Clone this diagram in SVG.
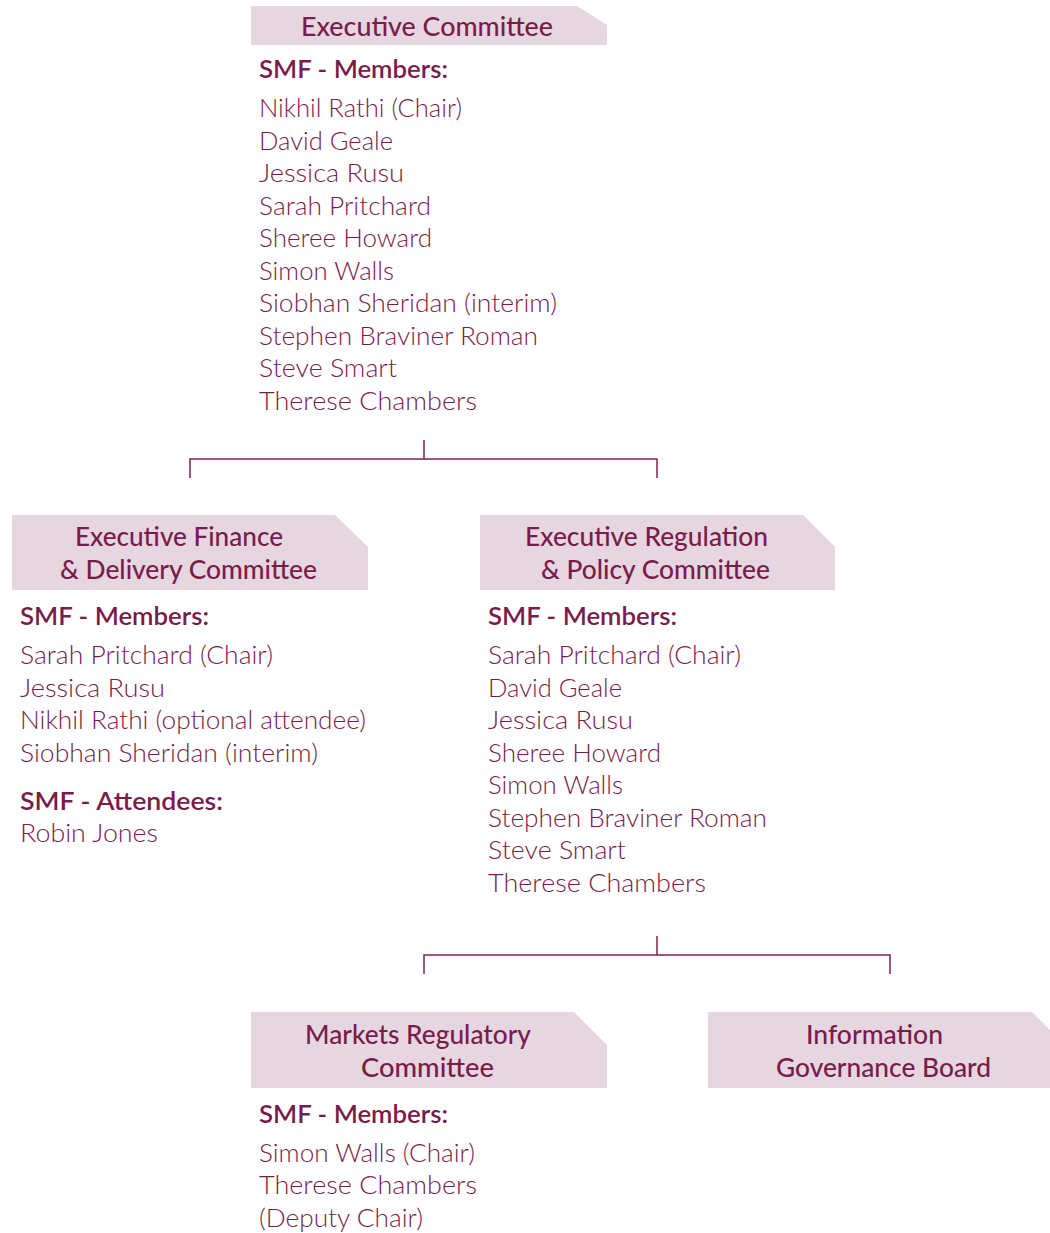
<svg xmlns="http://www.w3.org/2000/svg" width="1050" height="1233" viewBox="0 0 1050 1233">
<style>
.box{fill:#e6d6df}
text{lengthAdjust:spacingAndGlyphs}
.t{font-family:Lato,"Open Sans",sans-serif;font-size:26px;fill:#7a1c4b;font-weight:500}
.h{font-family:Lato,"Open Sans",sans-serif;font-size:25.8px;fill:#7a1c4b;font-weight:600}
.n{font-family:Lato,"Open Sans",sans-serif;font-size:26px;fill:#7a1c4b;font-weight:300}
.c{fill:none;stroke:#7b2352;stroke-width:1.5}
</style>
<rect width="1050" height="1233" fill="#fff"/>
<g id="connectors">
<path class="c" d="M424 440V459M190 478V459H657V478"/>
<path class="c" d="M657 936V955M424 974V955H890V974"/>
</g>
<g id="exec">
<path class="box" d="M251 6H577L607 25V45H251Z"/>
<text class="t" x="301" y="36" textLength="252" lengthAdjust="spacingAndGlyphs">Executive Committee</text>
<text class="h" x="259" y="78" textLength="189" lengthAdjust="spacingAndGlyphs">SMF - Members:</text>
<text class="n" x="259" y="117" textLength="203" lengthAdjust="spacingAndGlyphs">Nikhil Rathi (Chair)</text>
<text class="n" x="259" y="150" textLength="134" lengthAdjust="spacingAndGlyphs">David Geale</text>
<text class="n" x="259" y="182" textLength="145" lengthAdjust="spacingAndGlyphs">Jessica Rusu</text>
<text class="n" x="259" y="215" textLength="172" lengthAdjust="spacingAndGlyphs">Sarah Pritchard</text>
<text class="n" x="259" y="247" textLength="173" lengthAdjust="spacingAndGlyphs">Sheree Howard</text>
<text class="n" x="259" y="280" textLength="135" lengthAdjust="spacingAndGlyphs">Simon Walls</text>
<text class="n" x="259" y="312" textLength="298" lengthAdjust="spacingAndGlyphs">Siobhan Sheridan (interim)</text>
<text class="n" x="259" y="345" textLength="279" lengthAdjust="spacingAndGlyphs">Stephen Braviner Roman</text>
<text class="n" x="259" y="377" textLength="138" lengthAdjust="spacingAndGlyphs">Steve Smart</text>
<text class="n" x="259" y="410" textLength="218" lengthAdjust="spacingAndGlyphs">Therese Chambers</text>
</g>
<g id="finance">
<path class="box" d="M12 515H335L368 547V590H12Z"/>
<text class="t" x="75" y="546" textLength="208" lengthAdjust="spacingAndGlyphs">Executive Finance</text>
<text class="t" x="60" y="579" textLength="257" lengthAdjust="spacingAndGlyphs">&amp; Delivery Committee</text>
<text class="h" x="20" y="625" textLength="189" lengthAdjust="spacingAndGlyphs">SMF - Members:</text>
<text class="n" x="20" y="664" textLength="253" lengthAdjust="spacingAndGlyphs">Sarah Pritchard (Chair)</text>
<text class="n" x="20" y="697" textLength="145" lengthAdjust="spacingAndGlyphs">Jessica Rusu</text>
<text class="n" x="20" y="729" textLength="346" lengthAdjust="spacingAndGlyphs">Nikhil Rathi (optional attendee)</text>
<text class="n" x="20" y="762" textLength="298" lengthAdjust="spacingAndGlyphs">Siobhan Sheridan (interim)</text>
<text class="h" x="20" y="810" textLength="203" lengthAdjust="spacingAndGlyphs">SMF - Attendees:</text>
<text class="n" x="20" y="842" textLength="138" lengthAdjust="spacingAndGlyphs">Robin Jones</text>
</g>
<g id="regulation">
<path class="box" d="M480 515H803L835 547V590H480Z"/>
<text class="t" x="525" y="546" textLength="243" lengthAdjust="spacingAndGlyphs">Executive Regulation</text>
<text class="t" x="541" y="579" textLength="229" lengthAdjust="spacingAndGlyphs">&amp; Policy Committee</text>
<text class="h" x="488" y="625" textLength="189" lengthAdjust="spacingAndGlyphs">SMF - Members:</text>
<text class="n" x="488" y="664" textLength="253" lengthAdjust="spacingAndGlyphs">Sarah Pritchard (Chair)</text>
<text class="n" x="488" y="697" textLength="134" lengthAdjust="spacingAndGlyphs">David Geale</text>
<text class="n" x="488" y="729" textLength="145" lengthAdjust="spacingAndGlyphs">Jessica Rusu</text>
<text class="n" x="488" y="762" textLength="173" lengthAdjust="spacingAndGlyphs">Sheree Howard</text>
<text class="n" x="488" y="794" textLength="135" lengthAdjust="spacingAndGlyphs">Simon Walls</text>
<text class="n" x="488" y="827" textLength="279" lengthAdjust="spacingAndGlyphs">Stephen Braviner Roman</text>
<text class="n" x="488" y="859" textLength="138" lengthAdjust="spacingAndGlyphs">Steve Smart</text>
<text class="n" x="488" y="892" textLength="218" lengthAdjust="spacingAndGlyphs">Therese Chambers</text>
</g>
<g id="markets">
<path class="box" d="M251 1012H574L607 1045V1088H251Z"/>
<text class="t" x="305" y="1044" textLength="226" lengthAdjust="spacingAndGlyphs">Markets Regulatory</text>
<text class="t" x="361" y="1077" textLength="133" lengthAdjust="spacingAndGlyphs">Committee</text>
<text class="h" x="259" y="1123" textLength="189" lengthAdjust="spacingAndGlyphs">SMF - Members:</text>
<text class="n" x="259" y="1162" textLength="216" lengthAdjust="spacingAndGlyphs">Simon Walls (Chair)</text>
<text class="n" x="259" y="1194" textLength="218" lengthAdjust="spacingAndGlyphs">Therese Chambers</text>
<text class="n" x="259" y="1227" textLength="164" lengthAdjust="spacingAndGlyphs">(Deputy Chair)</text>
</g>
<g id="infogov">
<path class="box" d="M708 1012H1032L1050 1030V1088H708Z"/>
<text class="t" x="806" y="1044" textLength="137" lengthAdjust="spacingAndGlyphs">Information</text>
<text class="t" x="776" y="1077" textLength="215" lengthAdjust="spacingAndGlyphs">Governance Board</text>
</g>
</svg>
